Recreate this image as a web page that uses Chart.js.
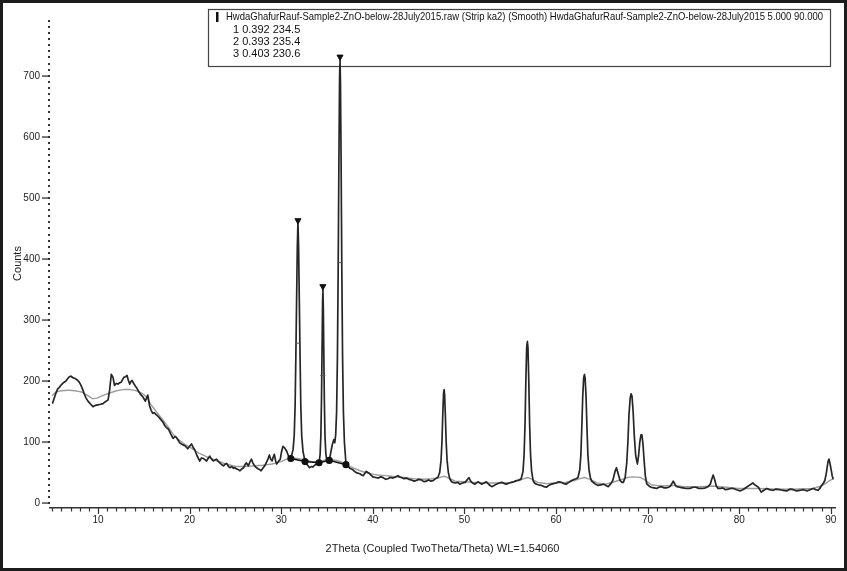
<!DOCTYPE html>
<html>
<head>
<meta charset="utf-8">
<script src="https://cdn.jsdelivr.net/npm/chart.js@4.4.0/dist/chart.umd.min.js"></script>
<style>
  html, body { margin: 0; padding: 0; background: #fff; }
  #frame { width: 841px; height: 565px; border: 3px solid #1c1c1c; background: #fff; }
  canvas { display: block; }
</style>
</head>
<body>
<div id="frame"><canvas id="xrd" width="841" height="565"></canvas></div>
<script>
// [2theta, counts]
const rawPattern = [
  [5.05,164],[5.2,171],[5.4,180],[5.6,187],[5.8,190],[5.95,193],[6.2,197],[6.5,200],[6.7,204],[6.86,207],
  [7.05,208],[7.2,206],[7.5,204],[7.8,201],[8.0,197],[8.17,192],[8.35,185],[8.5,179],[8.7,172],[8.9,167],
  [9.2,162],[9.45,158],[9.7,160],[10.0,161],[10.3,162],[10.55,163],[10.8,166],[11.1,169],[11.27,185],[11.45,211],
  [11.64,206],[11.8,193],[12.0,196],[12.18,195],[12.35,197],[12.54,198],[12.7,203],[12.84,206],[13.0,207],[13.17,209],
  [13.3,202],[13.46,195],[13.6,199],[13.71,201],[13.9,196],[14.07,192],[14.25,188],[14.44,183],[14.65,178],[14.9,174],
  [15.16,167],[15.3,172],[15.44,177],[15.62,160],[15.8,152],[15.98,147],[16.15,148],[16.34,145],[16.5,143],[16.7,140],
  [16.9,136],[17.07,133],[17.25,128],[17.4,125],[17.7,121],[17.95,113],[18.2,106],[18.4,109],[18.55,108],[18.75,103],
  [18.9,99],[19.2,96],[19.5,94],[19.8,89],[20.0,93],[20.2,97],[20.4,91],[20.57,87],[20.8,78],[21.1,69],
  [21.3,74],[21.5,73],[21.7,71],[21.85,69],[22.05,74],[22.2,77],[22.4,72],[22.6,69],[22.8,71],[22.95,72],
  [23.1,69],[23.3,66],[23.5,63],[23.7,61],[23.9,64],[24.05,65],[24.25,60],[24.4,58],[24.6,60],[24.8,57],
  [24.95,58],[25.1,56],[25.3,55],[25.5,53],[25.7,56],[25.9,58],[26.05,63],[26.2,66],[26.4,61],[26.55,66],
  [26.75,72],[26.9,66],[27.1,61],[27.3,58],[27.5,56],[27.65,55],[27.8,53],[28.0,57],[28.2,61],[28.4,67],
  [28.55,72],[28.7,79],[28.85,72],[29.0,69],[29.12,75],[29.25,80],[29.38,70],[29.5,64],[29.7,68],[29.9,72],
  [30.05,85],[30.2,93],[30.4,90],[30.6,85],[30.85,75],[31.05,73],
  [31.3,88],[31.42,110],[31.52,160],[31.6,240],[31.68,330],[31.76,420],[31.83,460],[31.9,420],[31.98,330],[32.06,240],
  [32.14,160],[32.24,110],[32.38,85],[32.6,68],[32.85,63],[33.1,58],[33.3,60],[33.45,59],[33.65,62],[33.85,64],
  [34.13,66],[34.25,80],[34.33,110],[34.4,170],[34.46,250],[34.51,320],[34.55,352],[34.6,320],[34.65,250],[34.71,170],
  [34.78,110],[34.87,82],[34.97,70],[35.25,70],[35.4,82],[35.5,90],[35.6,97],[35.75,104],[35.85,99],
  [35.95,112],[36.05,150],[36.14,240],[36.22,380],[36.3,560],[36.37,690],[36.42,728],[36.47,690],[36.54,560],[36.62,380],
  [36.7,240],[36.79,150],[36.9,100],[37.07,65],[37.3,60],[37.5,57],[37.8,55],[38.0,52],[38.2,50],[38.4,49],
  [38.6,48],[38.8,46],[38.95,45],[39.1,48],[39.3,52],[39.45,50],[39.6,49],[39.8,46],[40.0,43],[40.3,42],
  [40.6,41],[40.85,43],[41.1,42],[41.4,39],[41.65,40],[41.9,42],[42.2,41],[42.5,43],[42.75,45],[42.9,43],
  [43.1,42],[43.4,40],[43.7,41],[43.95,39],[44.2,38],[44.5,36],[44.75,37],[45.0,39],[45.3,38],[45.6,35],
  [45.85,36],[46.1,38],[46.35,36],[46.6,37],[46.85,40],[47.1,42],
  [47.3,50],[47.45,70],[47.55,100],[47.64,145],[47.72,178],[47.78,186],[47.84,178],[47.92,145],[48.01,100],[48.11,70],
  [48.25,50],[48.4,40],[48.6,35],[48.75,34],[49.0,33],[49.3,34],[49.5,31],[49.8,33],[50.07,34],[50.3,38],
  [50.5,42],[50.65,37],[50.8,34],[51.0,32],[51.15,31],[51.3,33],[51.5,35],[51.7,33],[51.9,31],[52.15,33],
  [52.4,35],[52.7,30],[53.0,27],[53.25,29],[53.5,31],[53.8,33],[54.1,34],[54.35,32],[54.6,31],[54.9,33],
  [55.15,34],[55.4,35],[55.7,37],[56.0,38],[56.2,40],
  [56.4,52],[56.52,80],[56.62,130],[56.71,200],[56.8,255],[56.87,265],[56.94,255],[57.03,200],[57.12,130],[57.22,80],
  [57.34,52],[57.5,37],[57.65,33],[57.85,31],[58.1,30],[58.4,29],[58.7,27],[58.95,26],[59.2,29],[59.5,31],
  [59.75,32],[60.0,33],[60.3,35],[60.6,34],[60.85,32],[61.1,31],[61.4,34],[61.7,37],[62.0,39],[62.2,40],
  [62.4,42],[62.6,55],[62.72,80],[62.82,125],[62.92,175],[63.02,205],[63.1,211],[63.18,205],[63.28,175],[63.38,125],
  [63.48,80],[63.6,55],[63.75,42],[63.9,36],[64.06,34],[64.3,31],[64.6,29],[64.9,30],[65.2,31],[65.45,29],
  [65.7,27],[65.95,31],[66.2,37],[66.45,52],[66.6,58],[66.75,50],[67.0,37],[67.2,34],[67.35,34],
  [67.55,42],[67.72,65],[67.85,100],[67.97,145],[68.1,172],[68.2,179],[68.3,175],[68.42,150],[68.55,110],[68.7,78],
  [68.88,64],[69.02,78],[69.15,100],[69.28,112],[69.38,112],[69.5,96],[69.62,70],[69.75,45],[69.9,32],
  [70.15,28],[70.4,26],[70.7,25],[71.0,24],[71.25,26],[71.5,27],[71.8,25],[72.05,25],[72.3,26],[72.5,28],
  [72.8,36],[73.05,29],[73.2,27],[73.5,26],[73.85,25],[74.2,24],[74.6,24],[74.95,26],[75.3,26],[75.6,24],
  [76.0,24],[76.3,25],[76.6,27],[76.85,31],[77.0,39],[77.16,46],[77.35,37],[77.5,28],[77.7,24],[77.95,24],
  [78.2,25],[78.5,22],[78.8,23],[79.1,24],[79.35,24],[79.7,22],[80.1,20],[80.4,22],[80.8,26],[81.1,29],
  [81.3,31],[81.5,33],[81.7,30],[81.9,28],[82.1,26],[82.4,18],[82.7,21],[83.0,24],[83.3,22],[83.7,21],
  [84.0,23],[84.4,22],[84.8,21],[85.2,20],[85.55,23],[85.9,22],[86.25,20],[86.6,21],[87.0,22],[87.4,20],
  [87.75,22],[88.1,24],[88.35,22],[88.6,21],[88.8,24],[89.0,29],[89.2,33],[89.35,37],[89.5,48],[89.6,58],
  [89.7,68],[89.8,72],[89.9,66],[90.05,54],[90.15,45],[90.25,40]
];

// smoothed background curve
const backgroundCurve = [
  [5.0,176],[5.4,182],[6.0,184],[6.8,185],[7.5,184],[8.2,182],[8.8,177],[9.4,171],[9.9,172],[10.5,176],
  [11.2,180],[12.0,184],[12.8,186],[13.5,186],[14.2,184],[14.8,180],[15.3,174],[15.8,161],[16.4,149],[17.0,138],
  [17.6,126],[18.2,113],[18.8,104],[19.5,96],[20.2,90],[21.0,82],[22.0,75],[23.0,69],[24.0,64],[25.0,60],
  [26.0,60],[27.0,61],[28.0,62],[29.0,64],[30.0,68],[30.6,72],[31.05,74],[31.8,73],[32.6,71],[33.3,68],
  [34.13,68],[34.6,70],[35.25,72],[36.0,70],[36.5,68],[37.07,63],[37.8,58],[38.6,53],[39.5,49],[40.5,46],
  [41.5,45],[42.5,43],[43.5,42],[44.5,40],[45.5,39],[46.5,40],[47.3,42],[47.8,44],[48.3,41],[49.0,36],
  [50.0,35],[51.0,34],[52.0,33],[53.0,33],[54.0,33],[55.0,34],[56.0,37],[56.5,40],[56.9,42],[57.4,39],
  [58.0,34],[59.0,32],[60.0,33],[61.0,34],[62.0,37],[62.6,40],[63.1,42],[63.7,39],[64.5,33],[65.4,31],
  [66.4,35],[67.2,39],[67.8,42],[68.5,43],[69.2,42],[69.7,38],[70.4,30],[71.5,28],[72.8,29],[74.0,27],
  [75.5,27],[77.2,28],[78.6,26],[80.0,24],[82.0,24],[84.0,23],[86.0,23],[88.0,24],[89.0,28],[89.8,36],
  [90.25,40]
];

const peakTops = [[31.83,463],[34.55,355],[36.42,731]];
const halfHeights = [[31.83,262],[34.55,209],[36.42,394]];
const baseDots = [[31.05,73],[32.6,68],[34.13,66],[35.25,70],[37.07,63]];

const xTickLabels = [10,20,30,40,50,60,70,80,90];
const yTickLabels = [0,100,200,300,400,500,600,700];

const legendTitle = 'HwdaGhafurRauf-Sample2-ZnO-below-28July2015.raw (Strip ka2) (Smooth) HwdaGhafurRauf-Sample2-ZnO-below-28July2015 5.000 90.000';
const peakRows = [
  ['1', '0.392', '234.5'],
  ['2', '0.393', '235.4'],
  ['3', '0.403', '230.6']
];

const FONT = '"Liberation Sans Narrow", "Liberation Sans", Arial, sans-serif';
const toXY = arr => arr.map(p => ({ x: p[0], y: p[1] }));

// minor tick marks like the instrument software draws them
const axisTicks = {
  id: 'axisTicks',
  afterDraw(chart) {
    const { ctx, chartArea, scales: { x, y } } = chart;
    ctx.save();
    ctx.strokeStyle = '#333';
    ctx.lineWidth = 1.2;
    ctx.beginPath();
    for (let v = 5; v <= 90; v++) {
      const px = Math.round(x.getPixelForValue(v)) + 0.5;
      const len = v % 10 === 0 ? 6 : 3.5;
      ctx.moveTo(px, chartArea.bottom);
      ctx.lineTo(px, chartArea.bottom + len);
    }
    ctx.stroke();
    ctx.fillStyle = '#333';
    for (let v = 0; v <= 790; v += 10) {
      const py = Math.round(y.getPixelForValue(v));
      ctx.fillRect(chartArea.left - 2, py - 1, 2, 2);
      if (v % 100 === 0) ctx.fillRect(chartArea.left - 8, py - 0.6, 8, 1.3);
    }
    ctx.restore();
  }
};

const peakTable = {
  id: 'peakTable',
  beforeDatasetsDraw(chart) {
    const ctx = chart.ctx;
    ctx.save();
    ctx.strokeStyle = '#444';
    ctx.lineWidth = 1.2;
    ctx.strokeRect(205.5, 6.5, 622, 57);
    ctx.fillStyle = '#111';
    ctx.fillRect(213, 9, 2.5, 10);
    ctx.font = '11px ' + FONT;
    ctx.textBaseline = 'middle';
    ctx.fillText(legendTitle, 223, 14, 597);
    peakRows.forEach((r, i) => ctx.fillText(r.join(' '), 230, 26.5 + i * 12.4));
    ctx.restore();
  }
};

new Chart(document.getElementById('xrd'), {
  type: 'scatter',
  data: {
    datasets: [
      {
        data: toXY(peakTops),
        pointStyle: 'triangle',
        rotation: 180,
        pointRadius: 3.5,
        backgroundColor: '#111',
        borderColor: '#111',
        borderWidth: 1
      },
      {
        data: toXY(halfHeights),
        pointStyle: 'line',
        pointRadius: 2.5,
        borderColor: '#555',
        borderWidth: 1
      },
      {
        data: toXY(baseDots),
        showLine: true,
        borderColor: '#111',
        backgroundColor: '#111',
        borderWidth: 1.5,
        pointRadius: 2.8
      },
      {
        // tiny tension keeps Chart.js off its pixel-column fast path
        data: toXY(rawPattern),
        showLine: true,
        tension: 0.001,
        borderColor: '#262626',
        borderWidth: 1.7,
        borderJoinStyle: 'round',
        borderCapStyle: 'round',
        pointRadius: 0
      },
      {
        data: toXY(backgroundCurve),
        showLine: true,
        tension: 0.001,
        borderColor: '#9c9c9c',
        borderWidth: 1.4,
        borderJoinStyle: 'round',
        pointRadius: 0
      }
    ]
  },
  options: {
    responsive: false,
    animation: false,
    layout: { padding: { top: 7, right: 9, left: 0, bottom: 0 } },
    plugins: { legend: { display: false }, tooltip: { enabled: false } },
    scales: {
      x: {
        type: 'linear',
        min: 4.76,
        max: 90.46,
        afterBuildTicks: s => { s.ticks = xTickLabels.map(v => ({ value: v })); },
        afterFit: s => { s.height = 60; },
        grid: { display: false, drawTicks: false },
        border: { display: true, color: '#333', width: 1.4 },
        ticks: { padding: 6, color: '#222', font: { family: FONT, size: 10 } },
        title: {
          display: true,
          text: '2Theta (Coupled TwoTheta/Theta) WL=1.54060',
          color: '#222',
          font: { family: FONT, size: 11 },
          padding: { top: 4, bottom: 12 }
        }
      },
      y: {
        min: -8,
        max: 793,
        afterBuildTicks: s => { s.ticks = yTickLabels.map(v => ({ value: v })); },
        afterFit: s => { s.width = 47; },
        grid: { display: false, drawTicks: false },
        border: { display: false },
        ticks: { padding: 10, color: '#222', font: { family: FONT, size: 10 } },
        title: {
          display: true,
          text: 'Counts',
          color: '#222',
          font: { family: FONT, size: 11 },
          padding: { top: 8, bottom: 0 }
        }
      }
    }
  },
  plugins: [axisTicks, peakTable]
});
</script>
</body>
</html>
